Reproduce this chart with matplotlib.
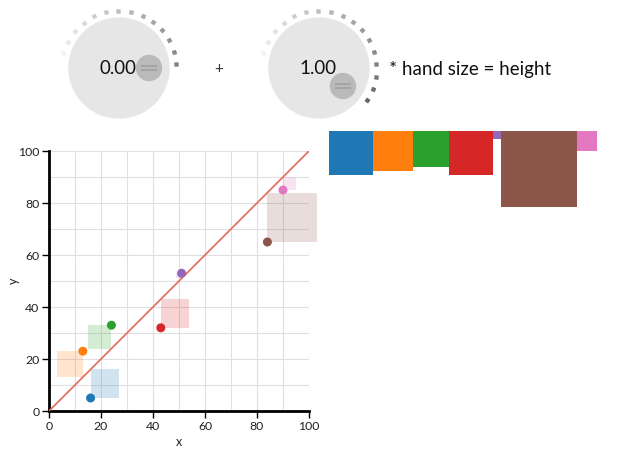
import numpy as np
import matplotlib
matplotlib.use("Agg")
import matplotlib.pyplot as plt
from matplotlib.patches import Circle

# ---- data ----
xs = [16, 13, 24, 43, 51, 84, 90]
ys = [5, 23, 33, 32, 53, 65, 85]
colors = ["#1f77b4", "#ff7f0e", "#2ca02c", "#d62728", "#9467bd", "#8c564b", "#e377c2"]
intercept = 0.00
slope = 1.00
xticks = [0, 20, 40, 60, 80, 100]
yticks = [0, 20, 40, 60, 80, 100]
note_text = "* hand size = height"

W, H = 618, 463
fig = plt.figure(figsize=(W / 100, H / 100), dpi=100)
plt.rcParams['font.family'] = ['Lato', 'DejaVu Sans']

# ---- background pixel axes for knobs ----
bg = fig.add_axes([0, 0, 1, 1])
bg.set_xlim(0, W)
bg.set_ylim(H, 0)
bg.axis('off')

def draw_knob(cx, cy, value, handle_deg):
    bg.add_patch(Circle((cx, cy), 50, color="#e6e6e6", zorder=1))
    a0, step = 165.0, 12.4
    a = a0
    while a >= handle_deg + 3:
        frac = (a0 - a) / 198.0
        g = 0.95 - 0.55 * frac
        r = 57.5
        px = cx + r * np.cos(np.radians(a))
        py = cy - r * np.sin(np.radians(a))
        bg.plot(px, py, marker=(4, 0, 45 + a), markersize=4.4, color=(g, g, g),
                markeredgewidth=0, zorder=2)
        a -= step
    hx = cx + 30 * np.cos(np.radians(handle_deg))
    hy = cy - 30 * np.sin(np.radians(handle_deg))
    bg.add_patch(Circle((hx, hy), 12.5, color="#bababa", zorder=3))
    for dy in (-2, 2):
        bg.plot([hx - 8, hx + 8], [hy + dy, hy + dy], color="#a4a4a4", lw=1.4,
                solid_capstyle='butt', zorder=4)
    bg.text(cx - 1, cy + 1, f"{value:.2f}", fontsize=13.5, ha='center', va='center',
            color="#111111", zorder=5)

draw_knob(119, 68, intercept, 0)
draw_knob(319, 68, slope, -37)
bg.text(219, 69, "+", fontsize=11, ha='center', va='center', color="#333333")
bg.text(389, 70, note_text, fontsize=13.5, ha='left', va='center', color="#111111")

# ---- main scatter axes ----
ax = fig.add_axes([49 / W, (H - 411) / H, 260 / W, 260 / H])
ax.set_xlim(0, 100)
ax.set_ylim(0, 100)
ax.set_xticks(xticks)
ax.set_yticks(yticks)
ax.set_xticks(np.arange(0, 101, 10), minor=True)
ax.set_yticks(np.arange(0, 101, 10), minor=True)
ax.grid(True, which='both', color="#e0e0e0", lw=0.8, zorder=0)
ax.tick_params(which='minor', length=0)
ax.tick_params(which='major', length=5, width=1, color='black', labelsize=8.8,
               labelcolor="#222222", pad=2)
for s in ('top', 'right'):
    ax.spines[s].set_visible(False)
for s in ('left', 'bottom'):
    ax.spines[s].set_linewidth(2)
ax.set_xlabel("x", fontsize=9, color="#222222")
ax.set_ylabel("y", fontsize=9, color="#222222")
ax.xaxis.set_label_coords(0.5, -25 / 260)
ax.yaxis.set_label_coords(-29 / 260, 0.5)

for x, y, c in zip(xs, ys, colors):
    pred = intercept + slope * x
    res = y - pred
    side = abs(res)
    if res > 0:
        rx, ry = x - side, y - side
    else:
        rx, ry = x, y
    ax.add_patch(plt.Rectangle((rx, ry), side, side, color=c, alpha=0.2, lw=0,
                               zorder=2, clip_on=False))
lx = np.array([0, 100])
ax.plot(lx, intercept + slope * lx, color="#e8685a", lw=1.2, zorder=3)
ax.scatter(xs, ys, s=42, c=colors, zorder=4, clip_on=False, linewidths=0)

# ---- residual squares panel ----
bx = fig.add_axes([329 / W, 0, (W - 329) / W, (H - 131) / H])
bx.set_xlim(0, (W - 329) / 4)
bx.set_ylim((H - 131) / 4, 0)
bx.axis('off')
sides = [abs(y - (intercept + slope * x)) for x, y in zip(xs, ys)]
lefts = np.concatenate([[0], np.cumsum(sides)[:-1]])
bx.bar(lefts, sides, width=sides, bottom=0, align='edge', color=colors, lw=0)

fig.savefig("out.png", dpi=100)
